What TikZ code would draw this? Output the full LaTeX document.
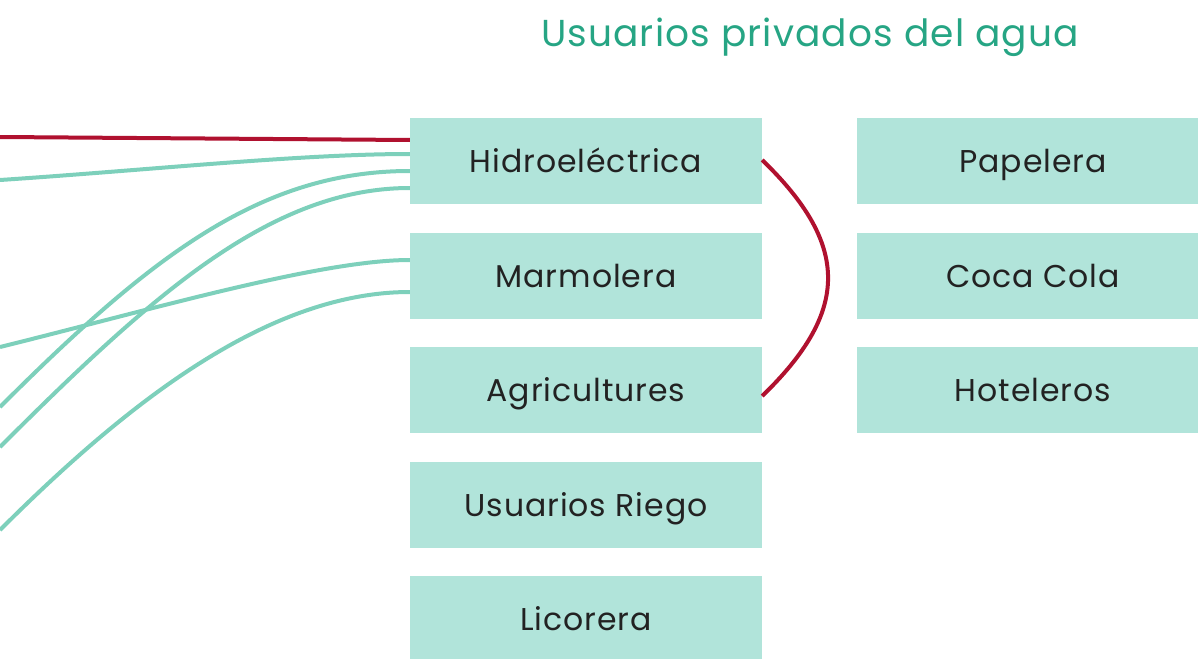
\documentclass[tikz,border=0pt]{standalone}
\usepackage{fontspec}
\setmainfont{Poppins}
\newfontfamily\boxfont[LetterSpace=3]{Poppins}
\definecolor{boxfill}{HTML}{B1E4DA}
\definecolor{tealline}{HTML}{7DD0BB}
\definecolor{redline}{HTML}{B0112F}
\definecolor{titlecol}{HTML}{26A584}
\definecolor{txt}{HTML}{222222}
\begin{document}
\begin{tikzpicture}[x=1pt,y=-1pt,
  userbox/.style={fill=boxfill,draw=none,minimum width=352pt,minimum height=86pt,inner sep=0pt,
    text height=23pt,text depth=0pt,
    text=txt,font=\boxfont\fontsize{31.5}{34}\selectfont},
  tlink/.style={draw=tealline,line width=4pt},
  rlink/.style={draw=redline,line width=4pt}]
\useasboundingbox (0,0) rectangle (1198,658);
\node[text=titlecol,font=\boxfont\fontsize{37.5}{42}\selectfont,anchor=base] (title) at (810,47) {Usuarios privados del agua};
\node[userbox] (hidro) at (586,161) {Hidroeléctrica};
\node[userbox] (marmo) at (586,275.5) {Marmolera};
\node[userbox] (agri) at (586,389.5) {Agricultures};
\node[userbox] (riego) at (586,504.5) {Usuarios Riego};
\node[userbox] (lico) at (586,619) {Licorera};
\node[userbox] (pape) at (1033,161) {Papelera};
\node[userbox] (coca) at (1033,275.5) {Coca Cola};
\node[userbox] (hote) at (1033,389.5) {Hoteleros};
\coordinate (s1) at (0,137);
\coordinate (s2) at (0,180);
\coordinate (s3) at (0,407);
\coordinate (s4) at (0,447);
\coordinate (s5) at (0,347);
\coordinate (s6) at (0,530);
\draw[rlink] (s1) -- ([yshift=21pt]hidro.west);
\draw[tlink] (s2) .. controls (150,170) and (300,154) .. ([yshift=7pt]hidro.west);
\draw[tlink] (s3) .. controls (150,257) and (260,171) .. ([yshift=-10pt]hidro.west);
\draw[tlink] (s4) .. controls (150,297) and (270,188) .. ([yshift=-27pt]hidro.west);
\draw[tlink] (s5) .. controls (150,310) and (320,260) .. ([yshift=15.5pt]marmo.west);
\draw[tlink] (s6) .. controls (130,400) and (270,292) .. ([yshift=-16.5pt]marmo.west);
\draw[rlink] ([yshift=1pt]hidro.east) .. controls (850,245) and (850,311) .. ([yshift=-6.5pt]agri.east);
\end{tikzpicture}
\end{document}
